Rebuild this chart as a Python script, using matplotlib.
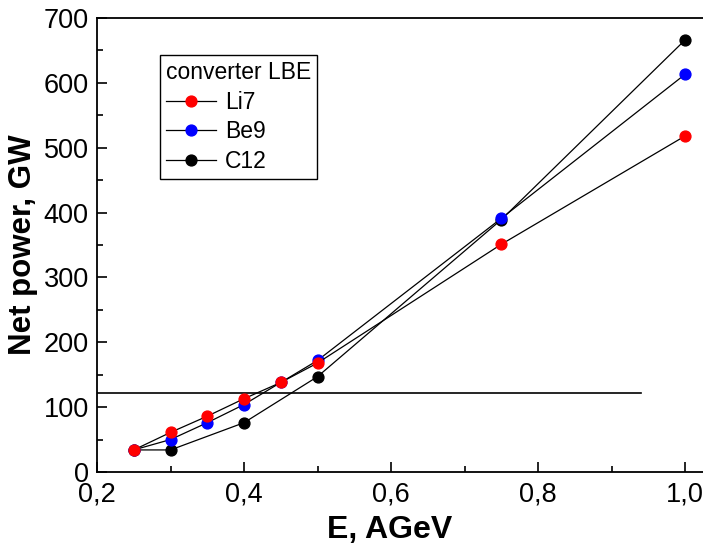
import numpy as np
import matplotlib.pyplot as plt
from matplotlib.ticker import MultipleLocator, FuncFormatter

plt.rcParams['font.family'] = ['Liberation Sans', 'DejaVu Sans']

# Data
E_li = [0.25, 0.30, 0.35, 0.40, 0.45, 0.50, 0.75, 1.00]
P_li = [34, 61, 86, 113, 138, 168, 351, 518]
E_be = [0.25, 0.30, 0.35, 0.40, 0.45, 0.50, 0.75, 1.00]
P_be = [34, 50, 76, 104, 138, 172, 391, 613]
E_c = [0.25, 0.30, 0.40, 0.50, 0.75, 1.00]
P_c = [34, 34, 76, 147, 389, 666]
threshold = 122
thr_x = [0.2, 0.94]

fig = plt.figure(figsize=(7.03, 5.51), dpi=100)
ax = fig.add_axes([0.138, 0.1434, 0.8887, 0.8240])

ms = 7.8
ax.plot(E_c, P_c, color='black', lw=0.9, marker='o', ms=ms, mfc='black', mec='black', label='C12', zorder=3)
ax.plot(E_be, P_be, color='black', lw=0.9, marker='o', ms=ms, mfc='blue', mec='blue', label='Be9', zorder=4)
ax.plot(E_li, P_li, color='black', lw=0.9, marker='o', ms=ms, mfc='red', mec='red', label='Li7', zorder=5)
ax.plot(thr_x, [threshold, threshold], color='black', lw=1.2, zorder=2)

ax.set_xlim(0.2, 1.05)
ax.set_ylim(0, 700)
ax.xaxis.set_major_locator(MultipleLocator(0.2))
ax.xaxis.set_minor_locator(MultipleLocator(0.1))
ax.yaxis.set_major_locator(MultipleLocator(100))
ax.yaxis.set_minor_locator(MultipleLocator(50))
ax.xaxis.set_major_formatter(FuncFormatter(lambda v, p: f'{v:.1f}'.replace('.', ',')))
ax.tick_params(which='both', direction='in', labelsize=19.5, width=1.2)
ax.tick_params(which='major', length=7)
ax.tick_params(which='minor', length=4)
ax.tick_params(axis='x', pad=7)
ax.tick_params(axis='y', pad=6)
for s in ax.spines.values():
    s.set_linewidth(1.3)

ax.set_xlabel('E, AGeV', fontsize=23, fontweight='bold')
ax.xaxis.set_label_coords(0.469, -0.095)
ax.set_ylabel('Net power, GW', fontsize=22.5, fontweight='bold', labelpad=4)

h, l = ax.get_legend_handles_labels()
leg = ax.legend(h[::-1], l[::-1], title='converter LBE', loc='upper left',
                bbox_to_anchor=(160 / 703, 1 - 55 / 551), bbox_transform=fig.transFigure,
                fontsize=16.5, title_fontsize=16.5, fancybox=False, edgecolor='black',
                framealpha=1, handlelength=2.2, borderpad=0.25, labelspacing=0.3,
                handletextpad=0.4, borderaxespad=0, alignment='left')
leg.get_frame().set_linewidth(1.0)

fig.savefig('out.png', dpi=100)
